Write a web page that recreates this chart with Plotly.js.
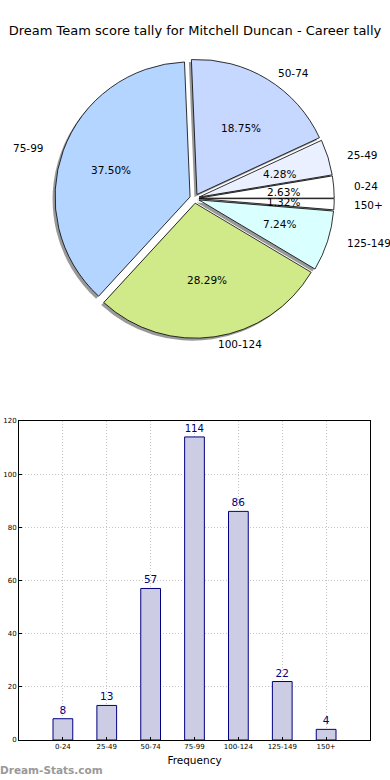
<!DOCTYPE html>
<html>
<head>
<meta charset="utf-8">
<script src="https://cdn.plot.ly/plotly-3.0.1.min.js"></script>
<style>html,body{margin:0;padding:0;background:#fff}#chart{width:390px;height:780px}</style>
</head>
<body>
<div id="chart"></div>
<script>
// ---- data ----
const categories = ["0-24", "25-49", "50-74", "75-99", "100-124", "125-149", "150+"];
const counts = [8, 13, 57, 114, 86, 22, 4];
const sliceColors = ["#ffffff", "#eaf0ff", "#c6d8ff", "#b4d5ff", "#d0ea8a", "#d9ffff", "#ffffff"];
const titleText = "Dream Team score tally for Mitchell Duncan - Career tally";
const xTitle = "Frequency";
const watermark = "Dream-Stats.com";

const W = 390, H = 780;
const FONT = "DejaVu Sans, sans-serif";
const PULL = 0.035;
const pull = categories.map(() => PULL);
const total = counts.reduce((a, b) => a + b, 0);
// Plotly (counterclockwise) starts the first slice's far edge at `rotation`;
// shift so the first slice begins at 3 o'clock like the reference.
const rotation = 90 - 360 * counts[0] / total;

// pie geometry (pixels)
const pieCx = 194.5, pieCy = 198.5, pieR = 135;
const half = pieR * (1 + PULL);
function dom(x0, x1, yTop, yBot) {
  return { x: [x0 / W, x1 / W], y: [1 - yBot / H, 1 - yTop / H] };
}
const shadowOff = 2.5;

const shadow = {
  type: "pie", values: counts, labels: categories, sort: false,
  direction: "counterclockwise", rotation: rotation, pull: pull,
  marker: { colors: categories.map(() => "rgba(70,70,70,0.55)"), line: { width: 0 } },
  textinfo: "none", hoverinfo: "skip", showlegend: false,
  domain: dom(pieCx - half - shadowOff, pieCx + half - shadowOff, pieCy - half + shadowOff, pieCy + half + shadowOff)
};
const pieMain = {
  type: "pie", values: counts, labels: categories, sort: false,
  direction: "counterclockwise", rotation: rotation, pull: pull,
  marker: { colors: sliceColors, line: { color: "#000", width: 0.8 } },
  textinfo: "none",
  hoverinfo: "label+value", showlegend: false,
  domain: dom(pieCx - half, pieCx + half, pieCy - half, pieCy + half)
};

// text positions for labels (labeldistance 1.1) and percentages (0.6), from the slice angles
const rxText = pieR * 1.045, ryText = pieR * 0.955, pullPx = pieR * PULL;
const annotations = [];
let cum = 0;
counts.forEach((v, i) => {
  const mid = (cum + v / 2) / total * 2 * Math.PI;
  cum += v;
  const c = Math.cos(mid), s = Math.sin(mid);
  const ox = pieCx + pullPx * c, oy = pieCy - pullPx * s;
  const lx = ox + 1.1 * rxText * c, ly = oy - 1.1 * ryText * s;
  annotations.push({
    text: categories[i], xref: "paper", yref: "paper", x: lx / W, y: 1 - ly / H,
    xanchor: c > 0 ? "left" : "right", yanchor: "middle", showarrow: false,
    borderpad: 0, xshift: c > 0 ? -1 : 1,
    font: { family: FONT, size: 10.5, color: "#000" }
  });
  const px = ox + 0.6 * rxText * c, py = oy - 0.6 * ryText * s;
  annotations.push({
    text: (v / total * 100).toFixed(2) + "%", xref: "paper", yref: "paper",
    x: px / W, y: 1 - py / H, xanchor: "center", yanchor: "middle",
    showarrow: false, borderpad: 0,
    font: { family: FONT, size: 10.5, color: "#000" }
  });
});
annotations.push({
  text: watermark, xref: "paper", yref: "paper", x: 0, y: 1 - 770 / H,
  xanchor: "left", yanchor: "middle", showarrow: false, borderpad: 0, xshift: -1,
  font: { family: FONT, size: 10.5, color: "#999999", weight: "bold" }
});

const bars = {
  type: "bar", x: categories, y: counts, width: 0.45,
  marker: { color: "rgb(204,204,228)", line: { color: "#000080", width: 1 } },
  text: counts.map(String), textposition: "outside", cliponaxis: false,
  textfont: { family: FONT, size: 10.5, color: "#000080" },
  hoverinfo: "x+y", showlegend: false, xaxis: "x", yaxis: "y"
};

const gridStyle = { showgrid: true, gridcolor: "#c4c4c4", griddash: "1px,2px", gridwidth: 1 };

const layout = {
  width: W, height: H,
  margin: { l: 0, r: 0, t: 0, b: 0 },
  paper_bgcolor: "#fff", plot_bgcolor: "#fff",
  font: { family: FONT, color: "#000" },
  title: { text: titleText, x: 0.5, xanchor: "center", y: 1 - 30 / H, yanchor: "middle",
           font: { family: FONT, size: 13, color: "#000" } },
  xaxis: Object.assign({
    domain: [19 / W, 370 / W], range: [-1, categories.length],
    type: "category",
    showline: true, linecolor: "#000", linewidth: 1, mirror: true,
    ticks: "inside", ticklen: 3, tickcolor: "#000",
    tickfont: { family: FONT, size: 7, color: "#000" },
    title: { text: xTitle, font: { family: FONT, size: 10.5, color: "#000" }, standoff: 6 },
    zeroline: false, fixedrange: true
  }, gridStyle),
  yaxis: Object.assign({
    domain: [1 - 740 / H, 1 - 421 / H], range: [0, 120], dtick: 20,
    showline: true, linecolor: "#000", linewidth: 1, mirror: true,
    ticks: "inside", ticklen: 3, tickcolor: "#000",
    tickfont: { family: FONT, size: 7, color: "#000" },
    zeroline: false, fixedrange: true
  }, gridStyle),
  annotations: annotations
};

Plotly.newPlot("chart", [shadow, pieMain, bars], layout, { displayModeBar: false, staticPlot: true });
</script>
</body>
</html>
